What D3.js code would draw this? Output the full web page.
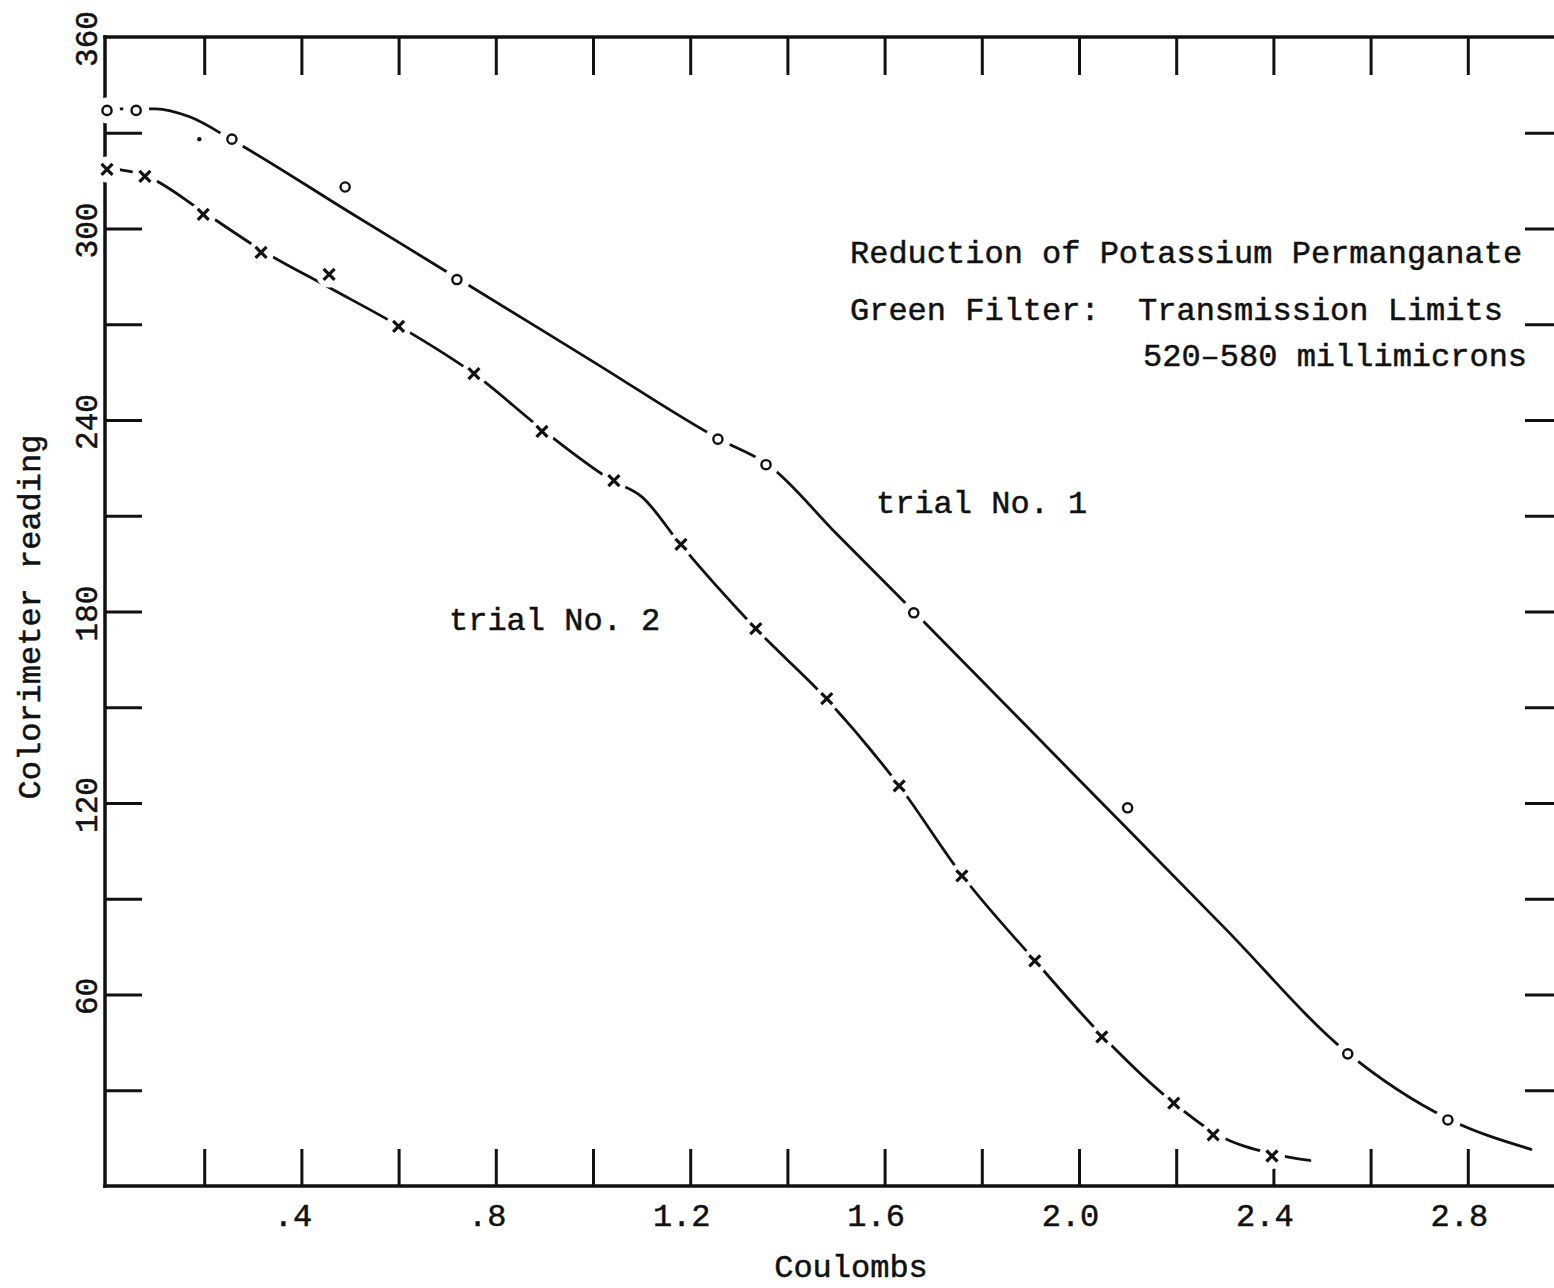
<!DOCTYPE html>
<html><head><meta charset="utf-8">
<script src="https://cdn.jsdelivr.net/npm/d3@7"></script>
<style>
body{margin:0;background:#fff}
svg{display:block;background:#fff}
text{font-family:"Liberation Mono","DejaVu Sans Mono",monospace;fill:#111;stroke:#111;stroke-width:0.5}
</style>
</head><body>
<svg id="c" width="1554" height="1288"></svg>
<script>
// ---- data ----
const trial1X = [0, 0.06, 0.257, 0.49, 0.72, 1.257, 1.356, 1.66, 2.10, 2.553, 2.759];
const trial1Y = [337, 337, 328, 313, 284, 234, 226, 179.6, 118.5, 41.4, 20.7];
const trial2X = [0, 0.078, 0.198, 0.317, 0.457, 0.60, 0.755, 0.895, 1.043, 1.181, 1.335, 1.481, 1.63, 1.759, 1.909, 2.047, 2.195, 2.276, 2.397];
const trial2Y = [318.5, 316.3, 304.4, 292.5, 285.6, 269.3, 254.5, 236.4, 221, 201, 174.6, 152.7, 125.4, 97.2, 70.5, 46.7, 26, 16, 9.4];
// hand-drawn fitted curves
const curve1X = [0, 0.1, 0.17, 0.26, 0.5, 0.72, 1.0, 1.26, 1.36, 1.5, 1.66, 2.0, 2.3, 2.55, 2.76, 2.93];
const curve1Y = [337.5, 337.5, 335, 327.5, 305, 284.5, 258.3, 234, 226, 204.5, 180, 127.3, 80.8, 42, 21, 11.5];
const curve2X = [0, 0.08, 0.2, 0.32, 0.457, 0.6, 0.755, 0.9, 1.04, 1.1, 1.18, 1.335, 1.48, 1.63, 1.76, 1.91, 2.05, 2.195, 2.28, 2.40, 2.475];
const curve2Y = [319, 316.5, 305, 293, 281.5, 269.5, 254.5, 236.5, 221, 216, 201, 174.6, 152.7, 125.4, 97.2, 70.5, 46.7, 26, 16.5, 10, 8];
const strayDotX = [0.19];
const strayDotY = [328];
// axes
const xTickValues = [0.2, 0.4, 0.6, 0.8, 1.0, 1.2, 1.4, 1.6, 1.8, 2.0, 2.2, 2.4, 2.6, 2.8];
const xLabelValues = [0.4, 0.8, 1.2, 1.6, 2.0, 2.4, 2.8];
const xLabelText = [".4", ".8", "1.2", "1.6", "2.0", "2.4", "2.8"];
const yTickValues = [30, 60, 90, 120, 150, 180, 210, 240, 270, 300, 330];
const yLabelValues = [60, 120, 180, 240, 300, 360];
const yLabelText = ["60", "120", "180", "240", "300", "360"];
const titleLines = ["Reduction of Potassium Permanganate", "Green Filter:  Transmission Limits", "520\u2013580 millimicrons"];

(function () {
const svg = d3.select("#c");
const x = d3.scaleLinear().domain([0, 3]).range([107, 1565]);
const y = d3.scaleLinear().domain([0, 360]).range([1186, 37]);
const ink = "#111";
const fL = x(0) - 2, fR = x(3), fT = y(360), fB = y(0);

const frame = svg.append("g").attr("stroke", ink).attr("stroke-width", 3.5).attr("stroke-linecap", "square");
frame.append("line").attr("x1", fL).attr("x2", fR).attr("y1", fT).attr("y2", fT);
frame.append("line").attr("x1", fL).attr("x2", fR).attr("y1", fB).attr("y2", fB);
frame.append("line").attr("x1", fL).attr("x2", fL).attr("y1", fT).attr("y2", fB);
frame.append("line").attr("x1", fR).attr("x2", fR).attr("y1", fT).attr("y2", fB);

function styleAxis(g) {
  g.select(".domain").remove();
  g.selectAll(".tick line").attr("stroke", ink).attr("stroke-width", 3);
}
const labelMap = new Map(xLabelValues.map((v, i) => [v, xLabelText[i]]));
const bAx = svg.append("g").attr("transform", `translate(0,${fB})`)
  .call(d3.axisBottom(x).tickValues(xTickValues).tickSizeInner(-37).tickSizeOuter(0)
    .tickFormat(d => labelMap.has(+d.toFixed(1)) ? labelMap.get(+d.toFixed(1)) : ""));
styleAxis(bAx);
bAx.selectAll(".tick text").attr("y", 40).attr("dy", null).attr("dx", -9)
  .attr("font-size", 32).attr("font-family", "Liberation Mono, monospace").attr("fill", ink);
const tAx = svg.append("g").attr("transform", `translate(0,${fT})`)
  .call(d3.axisTop(x).tickValues(xTickValues).tickSizeInner(-38).tickSizeOuter(0).tickFormat(""));
styleAxis(tAx);
const lAx = svg.append("g").attr("transform", `translate(${fL},0)`)
  .call(d3.axisLeft(y).tickValues(yTickValues).tickSizeInner(-37).tickSizeOuter(0).tickFormat(""));
styleAxis(lAx);
const rAx = svg.append("g").attr("transform", `translate(${fR},0)`)
  .call(d3.axisRight(y).tickValues(yTickValues).tickSizeInner(-40).tickSizeOuter(0).tickFormat(""));
styleAxis(rAx);

svg.append("g").selectAll("text").data(yLabelValues).join("text")
  .attr("transform", d => `translate(97,${y(d) + 2}) rotate(-90)`)
  .attr("text-anchor", "middle").attr("font-size", 31)
  .text((d, i) => yLabelText[i]);

svg.append("text").attr("transform", "translate(40,617) rotate(-90)")
  .attr("text-anchor", "middle").attr("font-size", 32).text("Colorimeter reading");
svg.append("text").attr("x", 851).attr("y", 1277)
  .attr("text-anchor", "middle").attr("font-size", 32).text("Coulombs");

const line = d3.line().x(d => x(d[0])).y(d => y(d[1])).curve(d3.curveMonotoneX);
const c1 = curve1X.map((v, i) => [v, curve1Y[i]]);
const c2 = curve2X.map((v, i) => [v, curve2Y[i]]);
svg.append("path").attr("d", line(c1)).attr("fill", "none").attr("stroke", ink).attr("stroke-width", 2.8).attr("stroke-linecap", "round");
svg.append("path").attr("d", line(c2)).attr("fill", "none").attr("stroke", ink).attr("stroke-width", 2.8).attr("stroke-linecap", "round");

const p1 = trial1X.map((v, i) => [v, trial1Y[i]]);
const p2 = trial2X.map((v, i) => [v, trial2Y[i]]);
svg.append("g").selectAll("circle").data(p1.concat(p2)).join("circle")
  .attr("cx", d => x(d[0])).attr("cy", d => y(d[1])).attr("r", 13).attr("fill", "#fff");

svg.append("g").selectAll("circle").data(p1).join("circle")
  .attr("cx", d => x(d[0])).attr("cy", d => y(d[1])).attr("r", 4.6)
  .attr("fill", "#fff").attr("stroke", ink).attr("stroke-width", 2.4);
const s = 5.5;
svg.append("g").selectAll("path").data(p2).join("path")
  .attr("d", d => { const cx = x(d[0]), cy = y(d[1]); return `M${cx - s},${cy - s}L${cx + s},${cy + s}M${cx - s},${cy + s}L${cx + s},${cy - s}`; })
  .attr("stroke", ink).attr("stroke-width", 3.2).attr("fill", "none");
svg.append("g").selectAll("circle").data(strayDotX.map((v, i) => [v, strayDotY[i]])).join("circle")
  .attr("cx", d => x(d[0])).attr("cy", d => y(d[1])).attr("r", 2.2).attr("fill", ink);

svg.append("text").attr("x", 876).attr("y", 513).attr("font-size", 32).text("trial No. 1");
svg.append("text").attr("x", 449).attr("y", 630).attr("font-size", 32).text("trial No. 2");
svg.append("text").attr("x", 850).attr("y", 263).attr("font-size", 32).text(titleLines[0]);
svg.append("text").attr("x", 850).attr("y", 320).attr("font-size", 32).style("white-space", "pre").text(titleLines[1]);
svg.append("text").attr("x", 1143).attr("y", 366).attr("font-size", 32).text(titleLines[2]);
})();
</script>
</body></html>
